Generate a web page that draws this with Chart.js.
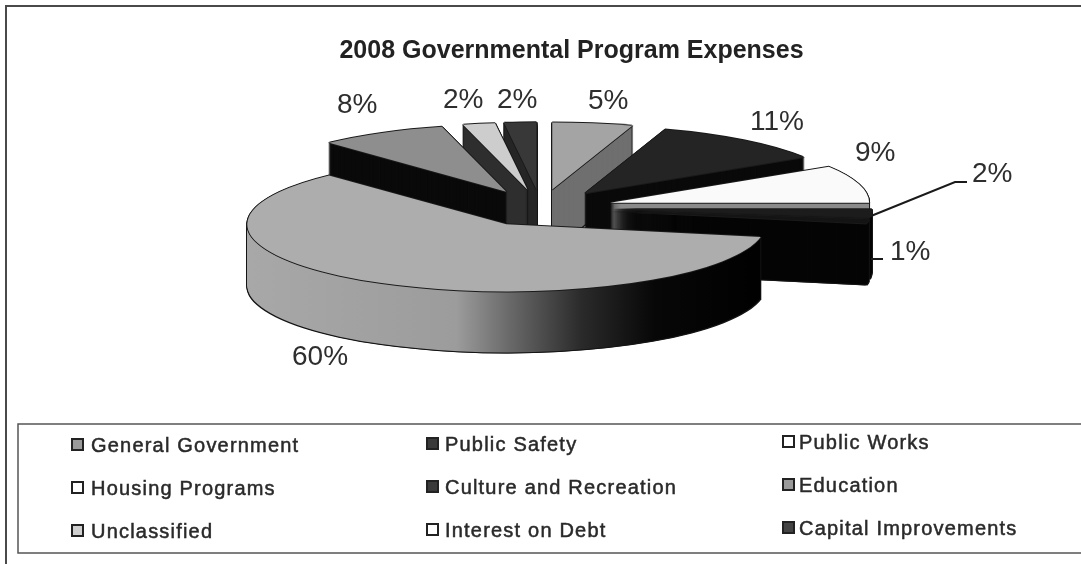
<!DOCTYPE html>
<html>
<head>
<meta charset="utf-8">
<title>2008 Governmental Program Expenses</title>
<script src="https://cdn.jsdelivr.net/npm/chart.js@4/dist/chart.umd.min.js"></script>
<style>
  html, body { margin: 0; padding: 0; background: #fff; }
  canvas { display: block; }
</style>
</head>
<body>
<canvas id="chart" width="1081" height="564"></canvas>
<script>
const chartTitle = '2008 Governmental Program Expenses';
const categories = ['General Government', 'Public Safety', 'Public Works', 'Housing Programs',
  'Culture and Recreation', 'Education', 'Unclassified', 'Interest on Debt', 'Capital Improvements'];
const percentages = [5, 11, 9, 2, 1, 60, 8, 2, 2];
const topColors = ['#a4a4a4', '#242424', '#fafafa', '#1c1c1c', '#141414', '#adadad', '#8e8e8e', '#cdcdcd', '#383838'];
const sideColors = ['#6f6f6f', '#0a0a0a', '#8a8a8a', '#050505', '#050505', null, '#0a0a0a', '#2e2e2e', '#262626'];
const swatchColors = ['#9a9a9a', '#3a3a3a', '#ffffff', '#ffffff', '#3a3a3a', '#9a9a9a', '#d0d0d0', '#ffffff', '#444444'];

// Layout of the tilted pie on the page
const PIE = { cx: 541, cy: 208, radius: 259, tilt: 0.259, depth: 61, explode: 72 };

// Left edge and baseline of each percentage label
const labelAnchors = [[588, 109], [750, 130], [855, 161], [972, 182], [890, 260],
  [292, 365], [337, 113], [443, 108], [497, 108]];
const leaderLines = [
  [[871, 216], [955, 182], [967, 182]],
  [[871, 259], [883, 259]]
];
const legendSwatchX = [72, 427, 783];
const legendTextX = [91, 445, 799];
const legendRowShift = [1, 0, -2];
const legendRows = [444, 487, 530];

function drawArcAs(ctx, arc, fill) {
  const saved = arc.options;
  arc.options = Object.assign({}, saved, { backgroundColor: fill });
  arc.draw(ctx);
  arc.options = saved;
}

// Places one slice: moved out along its mid-angle, then flattened about the pie centre
function withTilt(ctx, arc, dx, dy, fn) {
  const mid = (arc.startAngle + arc.endAngle) / 2;
  ctx.save();
  ctx.translate(PIE.cx + dx, PIE.cy + dy);
  ctx.scale(1, PIE.tilt);
  ctx.translate(Math.cos(mid) * PIE.explode, Math.sin(mid) * PIE.explode);
  ctx.translate(-arc.x, -arc.y);
  fn();
  ctx.restore();
}

// Shading along the rim of the large slice: grey on the left, black to the right
function educationRim(ctx, arc) {
  const mid = (arc.startAngle + arc.endAngle) / 2;
  const shift = PIE.cx - arc.x + Math.cos(mid) * PIE.explode;
  const g = ctx.createLinearGradient(247 - shift, 0, 770 - shift, 0);
  g.addColorStop(0, '#a8a8a8');
  g.addColorStop(0.4, '#9c9c9c');
  g.addColorStop(0.5, '#6a6a6a');
  g.addColorStop(0.64, '#2a2a2a');
  g.addColorStop(0.78, '#070707');
  g.addColorStop(1, '#000000');
  return g;
}

const tiltedPie = {
  id: 'tiltedPie',
  beforeDatasetsDraw(chart) {
    const ctx = chart.ctx;
    const arcs = chart.getDatasetMeta(0).data;
    const order = arcs.map((_, i) => i).sort((a, b) => {
      const mid = i => (arcs[i].startAngle + arcs[i].endAngle) / 2;
      return Math.sin(mid(a)) - Math.sin(mid(b));
    });
    order.forEach(i => {
      const arc = arcs[i];
      const rim = sideColors[i] || educationRim(ctx, arc);
      // dark silhouette of the extruded slice, which leaves a thin outline
      for (let d = 0; d <= PIE.depth + 1; d += 1) {
        [-1, 1].forEach(dx => withTilt(ctx, arc, dx, d, () => drawArcAs(ctx, arc, '#151515')));
      }
      for (let d = PIE.depth; d >= 1; d -= 1) {
        withTilt(ctx, arc, 0, d, () => drawArcAs(ctx, arc, rim));
      }
      [[-1, 0], [1, 0], [0, -1], [0, 1]].forEach(([dx, dy]) => {
        withTilt(ctx, arc, dx, dy, () => drawArcAs(ctx, arc, '#1a1a1a'));
      });
      withTilt(ctx, arc, 0, 0, () => drawArcAs(ctx, arc, topColors[i]));
    });
    return false;
  },
  beforeDraw(chart) {
    const ctx = chart.ctx;
    ctx.save();
    ctx.strokeStyle = '#4a4a4a';
    ctx.lineWidth = 2;
    ctx.beginPath();
    ctx.moveTo(1081, 6);
    ctx.lineTo(6, 6);
    ctx.lineTo(6, 564);
    ctx.stroke();
    ctx.lineWidth = 1.5;
    ctx.strokeStyle = '#555555';
    ctx.beginPath();
    ctx.moveTo(1081, 424);
    ctx.lineTo(18, 424);
    ctx.lineTo(18, 553);
    ctx.lineTo(1081, 553);
    ctx.stroke();
    ctx.restore();
  },
  afterDraw(chart) {
    const ctx = chart.ctx;
    ctx.save();
    // percentage labels and their leader lines
    ctx.fillStyle = '#2e2e2e';
    ctx.font = '28px "Liberation Sans", Arial, sans-serif';
    ctx.textAlign = 'left';
    ctx.textBaseline = 'alphabetic';
    percentages.forEach((v, i) => {
      ctx.fillText(v + '%', labelAnchors[i][0], labelAnchors[i][1]);
    });
    ctx.strokeStyle = '#1a1a1a';
    ctx.lineWidth = 2;
    leaderLines.forEach(line => {
      ctx.beginPath();
      line.forEach(([x, y], i) => (i ? ctx.lineTo(x, y) : ctx.moveTo(x, y)));
      ctx.stroke();
    });
    // three-column legend
    ctx.font = '20px "Liberation Sans", Arial, sans-serif';
    ctx.letterSpacing = '1.2px';
    ctx.textBaseline = 'middle';
    categories.forEach((name, i) => {
      const col = i % 3;
      const x = legendSwatchX[col];
      const y = legendRows[Math.floor(i / 3)] + legendRowShift[col];
      ctx.fillStyle = swatchColors[i];
      ctx.fillRect(x, y - 6, 11, 11);
      ctx.strokeStyle = '#222222';
      ctx.lineWidth = 2;
      ctx.strokeRect(x, y - 6, 11, 11);
      ctx.fillStyle = '#2a2a2a';
      ctx.strokeStyle = '#2a2a2a';
      ctx.lineWidth = 0.5;
      ctx.fillText(name, legendTextX[col], y + 1);
      ctx.strokeText(name, legendTextX[col], y + 1);
    });
    ctx.restore();
  }
};

new Chart(document.getElementById('chart'), {
  type: 'pie',
  data: {
    labels: categories,
    datasets: [{
      data: percentages,
      backgroundColor: topColors,
      borderWidth: 0,
      radius: PIE.radius
    }]
  },
  options: {
    responsive: false,
    animation: false,
    events: [],
    layout: { padding: { left: 62 } },
    plugins: {
      legend: { display: false },
      tooltip: { enabled: false },
      title: {
        display: true,
        text: chartTitle,
        color: '#222222',
        font: { family: '"Liberation Sans", Arial, sans-serif', size: 25, weight: 'bold' },
        padding: { top: 36, bottom: 0 }
      }
    }
  },
  plugins: [tiltedPie]
});
</script>
</body>
</html>
